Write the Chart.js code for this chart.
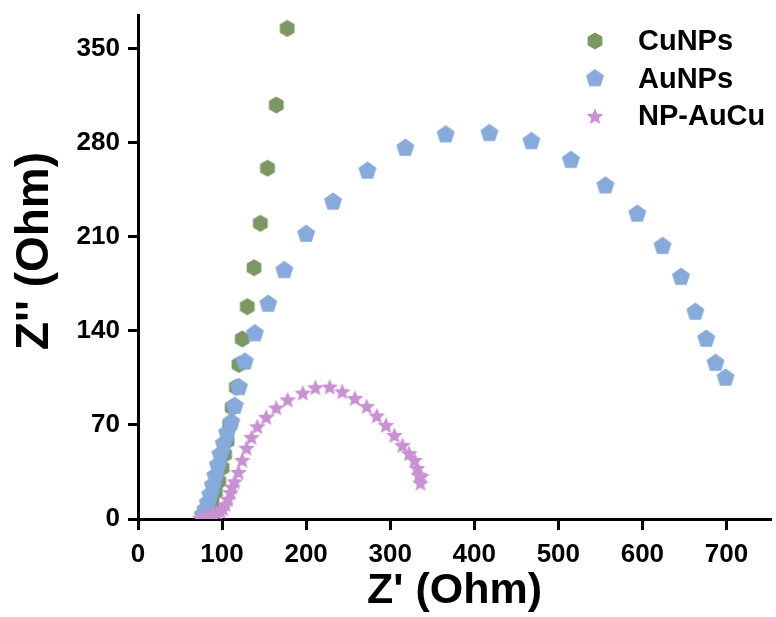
<!DOCTYPE html>
<html>
<head>
<meta charset="utf-8">
<script src="https://cdn.jsdelivr.net/npm/chart.js@4"></script>
<style>
  html, body { margin: 0; padding: 0; background: #fff; }
</style>
</head>
<body>
<canvas id="nyquist" width="776" height="617"></canvas>
<script>
// Nyquist plot data, Z' vs Z'' (Ohm)
const seriesNames = ['CuNPs', 'AuNPs', 'NP-AuCu'];

const cuX = [80, 84, 88, 92, 96, 100, 103, 106, 109, 112, 117, 120, 124, 130, 138, 145.5, 154, 164.5, 177.5];
const cuY = [2, 6, 12, 20, 28, 38, 48, 58, 70, 83, 98, 115, 134, 158, 187, 220, 261, 308, 365];

const auX = [77, 80, 83, 86, 89, 92, 95, 98, 102, 106, 111, 115, 120, 127, 139, 155, 174, 200, 232, 273, 318, 366, 418, 468, 515, 556, 594, 624, 646, 663, 676, 687, 699];
const auY = [3, 7, 12, 18, 25, 32, 40, 48, 56, 64, 72, 84, 98, 117, 138, 160, 185, 212, 236, 259, 276, 286, 287, 281, 267, 248, 227, 203, 180, 154, 134, 116, 105];

const npX = [74, 78, 82, 86, 90, 94, 98, 101, 104, 107, 110, 112, 115, 119.5, 124, 129, 135, 142, 152.5, 164.5, 178, 196, 211, 228, 243, 258, 272, 284, 295, 305, 314.5, 322.5, 329, 332, 334, 336, 337];
const npY = [1, 1.5, 2, 3, 4, 5, 6, 8, 11, 15, 20, 24, 28, 35, 44, 53, 61, 69, 76, 83, 89, 94, 98, 98.5, 95, 90, 84, 77, 70, 62.5, 55, 49, 44, 38, 33, 27, 32];

const xTicksStep = 100;
const yTicksStep = 70;
const yTitle = "Z'' (Ohm)";

const colors = ['#7b9762', '#85aadb', '#c991d2'];
const fontFamily = '"Liberation Sans", Arial, sans-serif';

function pts(xs, ys) {
  return xs.map((x, i) => ({ x: x, y: ys[i] }));
}

// custom marker images: hexagon, pentagon, star
function polyCanvas(size, color, drawFn) {
  const c = document.createElement('canvas');
  c.width = size; c.height = size;
  const g = c.getContext('2d');
  g.fillStyle = color;
  g.beginPath();
  drawFn(g, size / 2);
  g.closePath();
  g.fill();
  return c;
}
function regular(n, r, rot) {
  return (g, c) => {
    for (let i = 0; i < n; i++) {
      const a = rot + i * 2 * Math.PI / n;
      const px = c + r * Math.cos(a), py = c + r * Math.sin(a);
      if (i === 0) g.moveTo(px, py); else g.lineTo(px, py);
    }
  };
}
function star(ro, ri) {
  return (g, c) => {
    for (let i = 0; i < 10; i++) {
      const r = i % 2 ? ri : ro;
      const a = -Math.PI / 2 + i * Math.PI / 5;
      const px = c + r * Math.cos(a), py = c + 1 + r * Math.sin(a);
      if (i === 0) g.moveTo(px, py); else g.lineTo(px, py);
    }
  };
}

const hexImg = polyCanvas(18, colors[0], regular(6, 8.5, -Math.PI / 2));
const pentImg = polyCanvas(20, colors[1], regular(5, 9.5, -Math.PI / 2));
const starImg = polyCanvas(18, colors[2], star(8.8, 3.9));
const markers = [hexImg, pentImg, starImg];

// legend inside the plot (top right) and the rotated y title
const extras = {
  id: 'extras',
  afterDraw(chart) {
    const g = chart.ctx;
    g.save();
    g.font = 'bold 29px ' + fontFamily;
    g.fillStyle = '#000';
    g.textBaseline = 'middle';
    seriesNames.forEach((name, i) => {
      const y = 41 + i * 37.5;
      const m = markers[i];
      g.drawImage(m, 595 - m.width / 2, y - m.height / 2);
      g.fillText(name, 638, y + 1);
    });
    g.translate(35, 251);
    g.rotate(-Math.PI / 2);
    g.font = 'bold 46px ' + fontFamily;
    g.textAlign = 'center';
    g.fillText(yTitle, 0, 0);
    g.restore();
  }
};

const ctx = document.getElementById('nyquist').getContext('2d');
const nyquistChart = new Chart(ctx, {
  type: 'scatter',
  data: {
    datasets: [
      { label: seriesNames[0], data: pts(cuX, cuY), pointStyle: hexImg, order: 3 },
      { label: seriesNames[1], data: pts(auX, auY), pointStyle: pentImg, order: 2 },
      { label: seriesNames[2], data: pts(npX, npY), pointStyle: starImg, order: 1 }
    ]
  },
  options: {
    responsive: false,
    animation: false,
    layout: { padding: 0 },
    plugins: {
      legend: { display: false },
      tooltip: { enabled: false }
    },
    scales: {
      x: {
        type: 'linear',
        min: 0,
        max: 753,
        grid: { drawOnChartArea: false, drawTicks: true, tickLength: 11, tickWidth: 3, tickColor: '#000' },
        border: { color: '#000', width: 3 },
        ticks: {
          stepSize: xTicksStep,
          includeBounds: false,
          color: '#000',
          padding: 9,
          font: { family: fontFamily, size: 26, weight: 'bold' }
        },
        title: {
          display: true,
          text: "Z' (Ohm)",
          color: '#000',
          padding: { top: 0, bottom: 0 },
          font: { family: fontFamily, size: 43, weight: 'bold' }
        },
        afterFit(scale) { scale.height = 98; }
      },
      y: {
        type: 'linear',
        min: 0,
        max: 375,
        grid: { drawOnChartArea: false, drawTicks: true, tickLength: 10, tickWidth: 3, tickColor: '#000' },
        border: { color: '#000', width: 3 },
        ticks: {
          stepSize: yTicksStep,
          includeBounds: false,
          color: '#000',
          padding: 8,
          font: { family: fontFamily, size: 26, weight: 'bold' }
        },
        afterFit(scale) {
          scale.width = 138;
          scale.paddingTop = 15;
        }
      }
    }
  },
  plugins: [extras]
});
</script>
</body>
</html>
